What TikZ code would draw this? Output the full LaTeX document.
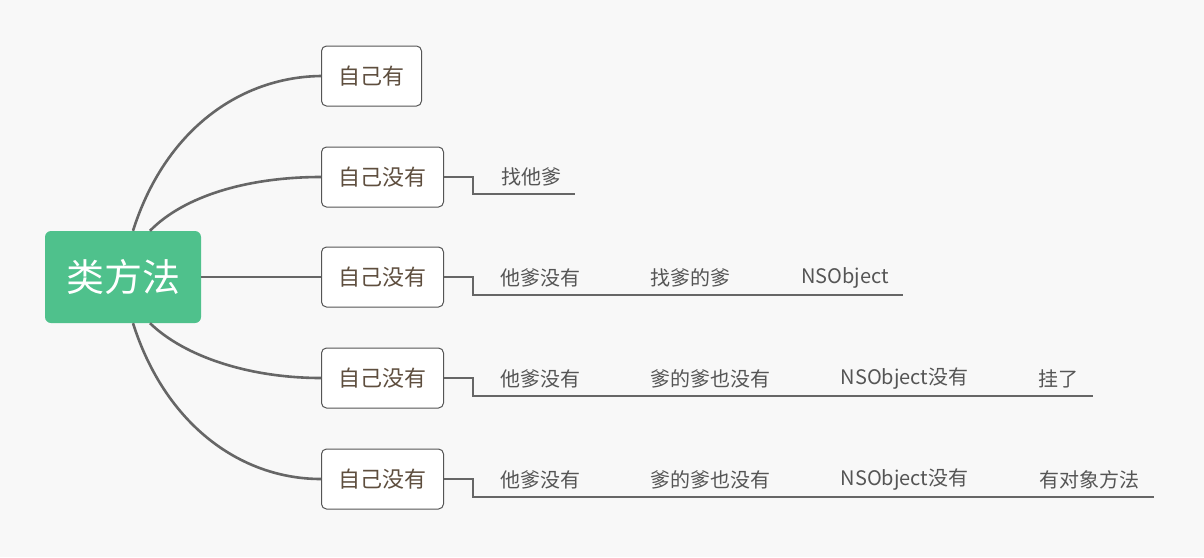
\documentclass[tikz,border=0pt]{standalone}
\usepackage{fontspec}
\setmainfont{Noto Sans CJK SC}
\usetikzlibrary{positioning}
\definecolor{bgc}{HTML}{F8F8F8}
\definecolor{rootc}{HTML}{4FC18C}
\definecolor{linec}{HTML}{666666}
\definecolor{boxc}{HTML}{555555}
\definecolor{topicc}{HTML}{5E4E3E}
\definecolor{leafc}{HTML}{555555}

\begin{document}
\begin{tikzpicture}[x=1pt, y=-1pt,
  root/.style={fill=rootc, rounded corners=6pt, text=white, font=\fontsize{38}{40}\selectfont, minimum width=156pt, minimum height=92pt},
  topic/.style={draw=boxc, line width=1pt, fill=white, rounded corners=5pt, text=topicc, font=\fontsize{22}{26}\selectfont, inner xsep=17pt, minimum height=60pt, anchor=west},
  leaf/.style={text=leafc, font=\fontsize{20}{24}\selectfont, inner xsep=14pt, inner ysep=0pt, minimum height=34pt, anchor=south},
  main/.style={draw=linec, line width=2.6pt},
  link/.style={draw=linec, line width=1.4pt}]
  \fill[bgc] (0,0) rectangle (1204,557);
  \node[root] (cm) at (123,277) {类方法};
  % first level
  \node[topic] (b1) at (321,76) {自己有};
  \node[topic] (b2) at (321,177) {自己没有};
  \node[topic] (b3) at (321,277) {自己没有};
  \node[topic] (b4) at (321,378) {自己没有};
  \node[topic] (b5) at (321,479) {自己没有};
  \draw[main] ([xshift=10pt]cm.north) .. controls (165,130) and (240,77) .. (b1.west);
  \draw[main] ([xshift=27pt]cm.north) .. controls (185,195) and (250,177) .. (b2.west);
  \draw[main] (cm.east) -- (b3.west);
  \draw[main] ([xshift=27pt]cm.south) .. controls (185,357) and (250,378) .. (b4.west);
  \draw[main] ([xshift=10pt]cm.south) .. controls (165,424) and (240,479) .. (b5.west);
  % second row
  \node[leaf] (l21) at (531,194) {找他爹};
  \draw[link] (b2.east) -- ++(29,0) |- (l21.south east);
  % third row
  \node[leaf] (l31) at (540.5,295) {他爹没有};
  \node[leaf] (l32) at (690,295) {找爹的爹};
  \node[leaf] (l33) at (845,295) {NSObject};
  \draw[link] (b3.east) -- ++(29,0) |- (l33.south east);
  % fourth row
  \node[leaf] (l41) at (540.5,396) {他爹没有};
  \node[leaf] (l42) at (710,396) {爹的爹也没有};
  \node[leaf] (l43) at (904.5,396) {NSObject没有};
  \node[leaf] (l44) at (1058.5,396) {挂了};
  \draw[link] (b4.east) -- ++(29,0) |- (l44.south east);
  % fifth row
  \node[leaf] (l51) at (540.5,497) {他爹没有};
  \node[leaf] (l52) at (710,497) {爹的爹也没有};
  \node[leaf] (l53) at (904.5,497) {NSObject没有};
  \node[leaf] (l54) at (1089.5,497) {有对象方法};
  \draw[link] (b5.east) -- ++(29,0) |- (l54.south east);
\end{tikzpicture}
\end{document}
